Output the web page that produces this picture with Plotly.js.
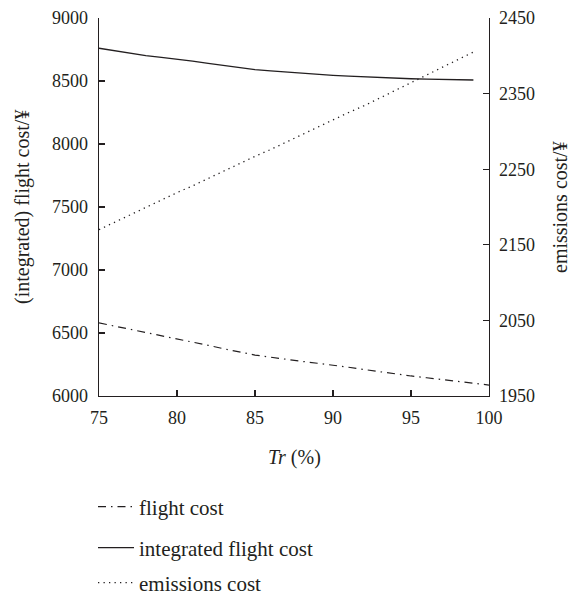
<!DOCTYPE html>
<html>
<head>
<meta charset="utf-8">
<script src="https://cdn.plot.ly/plotly-3.0.1.min.js"></script>
<style>html,body{margin:0;padding:0;background:#fff;}#chart{width:573px;height:597px;}</style>
</head>
<body>
<div id="chart"></div>
<script>
const trValues = [75,76,77,78,79,80,81,82,83,84,85,86,87,88,89,90,91,92,93,94,95,96,97,98,99];
const trFlight = [75,76,77,78,79,80,81,82,83,84,85,86,87,88,89,90,91,92,93,94,95,96,97,98,99,100];
const flightCost = [6580,6555,6530,6505,6482,6458,6430,6402,6375,6350,6325,6308,6290,6275,6260,6246,6228,6210,6192,6175,6159,6145,6130,6115,6100,6087];
const integratedCost = [8760,8740,8720,8702,8688,8675,8657,8640,8622,8606,8590,8580,8570,8562,8553,8545,8538,8532,8527,8522,8518,8515,8512,8510,8508];
const emissionsCost = [2170,2180,2190,2199,2209,2219,2228,2238,2248,2257,2267,2276,2286,2296,2305,2315,2325,2334,2344,2354,2364,2374,2384,2394,2405];
const xTicks = [75,80,85,90,95,100];
const yLeftTicks = [6000,6500,7000,7500,8000,8500,9000];
const yRightTicks = [1950,2050,2150,2250,2350,2450];
const seriesNames = ['flight cost','integrated flight cost','emissions cost'];
const xTitle = '<i>Tr</i> (%)';
const yLeftTitle = '(integrated) flight cost/¥';
const yRightTitle = 'emissions cost/¥';

const ink = '#231f20';
const family = '"Liberation Serif", "Times New Roman", serif';
const font = {family: family, size: 18, color: ink};
const titleFont = {family: family, size: 20, color: ink};

const traces = [
  {x: trFlight, y: flightCost, name: seriesNames[0], mode: 'lines', yaxis: 'y', legend: 'legend',
   line: {color: ink, width: 1.2, dash: '8px,5px,1.5px,5px'}},
  {x: trValues, y: integratedCost, name: seriesNames[1], mode: 'lines', yaxis: 'y', legend: 'legend2',
   line: {color: ink, width: 1.3}},
  {x: trValues, y: emissionsCost, name: seriesNames[2], mode: 'lines', yaxis: 'y2', legend: 'legend3',
   line: {color: ink, width: 1.3, dash: '1.3px,4.2px'}}
];

function leg(yc){
  return {xref: 'container', yref: 'container', x: 93/573, y: 1 - yc/597,
          xanchor: 'left', yanchor: 'middle',
          bgcolor: 'rgba(0,0,0,0)', borderwidth: 0, font: {family: family, size: 21, color: ink}, itemwidth: 36};
}

const layout = {
  width: 573, height: 597,
  margin: {l: 99, r: 84, t: 18, b: 201, autoexpand: false},
  paper_bgcolor: '#fff', plot_bgcolor: '#fff',
  font: font,
  showlegend: true,
  legend: leg(507),
  legend2: leg(548),
  legend3: leg(583),
  xaxis: {
    range: [75, 100], tickvals: xTicks, ticktext: xTicks.map(String),
    showgrid: false, zeroline: false, showline: true, linecolor: ink, linewidth: 1.3,
    ticks: 'inside', ticklen: 6, tickwidth: 1.3, tickcolor: ink, tickfont: font, ticklabelstandoff: 5
  },
  yaxis: {
    range: [6000, 9000], tickvals: yLeftTicks, ticktext: yLeftTicks.map(String),
    showgrid: false, zeroline: false, showline: true, linecolor: ink, linewidth: 1.3,
    ticks: 'inside', ticklen: 6, tickwidth: 1.3, tickcolor: ink, tickfont: font, ticklabelstandoff: 6
  },
  yaxis2: {
    range: [1950, 2450], tickvals: yRightTicks, ticktext: yRightTicks.map(String),
    overlaying: 'y', side: 'right',
    showgrid: false, zeroline: false, showline: true, linecolor: ink, linewidth: 1.3,
    ticks: 'inside', ticklen: 6, tickwidth: 1.3, tickcolor: ink, tickfont: font, ticklabelstandoff: 5
  },
  annotations: [
    {text: xTitle, xref: 'paper', yref: 'paper', x: 0.5, y: -(457 - 396) / 378,
     xanchor: 'center', yanchor: 'middle', showarrow: false, font: titleFont},
    {text: yLeftTitle, xref: 'paper', yref: 'paper', x: (22 - 99) / 390, y: 0.5,
     xanchor: 'center', yanchor: 'middle', textangle: -90, showarrow: false, font: titleFont},
    {text: yRightTitle, xref: 'paper', yref: 'paper', x: (560 - 99) / 390, y: 0.5,
     xanchor: 'center', yanchor: 'middle', textangle: -90, showarrow: false, font: titleFont}
  ]
};

Plotly.newPlot('chart', traces, layout, {displayModeBar: false, staticPlot: true});
</script>
</body>
</html>
